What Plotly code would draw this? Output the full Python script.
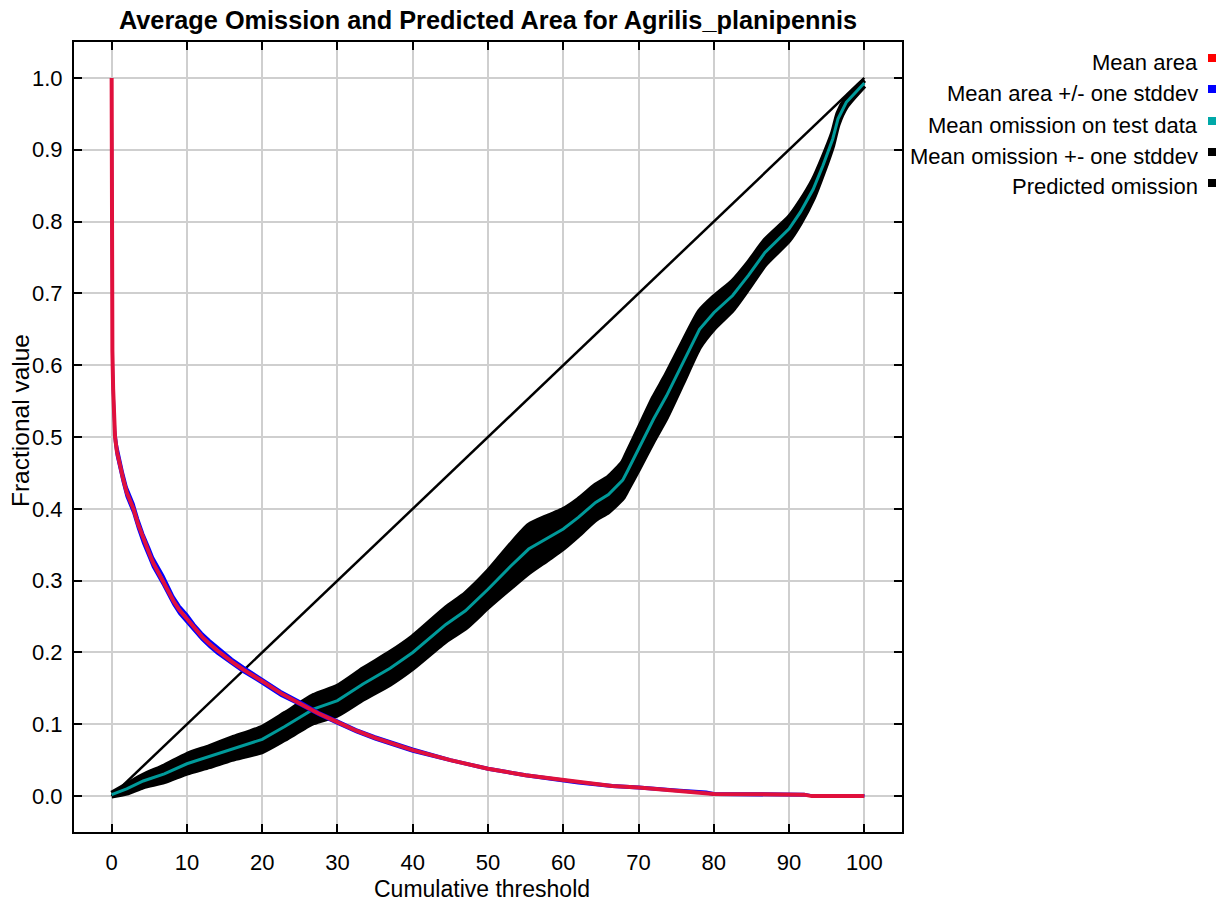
import plotly.graph_objects as go

# ---------------- data ----------------
x_ticks = [0, 10, 20, 30, 40, 50, 60, 70, 80, 90, 100]
y_ticks = [0.0, 0.1, 0.2, 0.3, 0.4, 0.5, 0.6, 0.7, 0.8, 0.9, 1.0]
y_ticktext = ["0.0", "0.1", "0.2", "0.3", "0.4", "0.5", "0.6", "0.7", "0.8", "0.9", "1.0"]

area_x = [0, 0.05, 0.1, 0.2, 0.3, 0.45, 0.7, 1.1, 1.5, 2,
          2.9, 3.5, 4.2, 5, 5.5, 6.85, 7.5, 8.2, 9, 10,
          11, 12, 13, 14, 16, 17.5, 20, 22.5, 25, 27.5,
          30, 32.5, 35, 37.5, 40, 45, 50, 55, 60, 62,
          66.5, 70, 75, 79, 80, 92, 93, 100]
area_mean = [1.0, 0.66, 0.62, 0.567, 0.54, 0.50, 0.48, 0.46, 0.443, 0.423,
             0.40, 0.379, 0.358, 0.338, 0.325, 0.30, 0.286, 0.272, 0.259, 0.247,
             0.234, 0.222, 0.212, 0.203, 0.187, 0.176, 0.16, 0.143, 0.129, 0.115,
             0.103, 0.091, 0.081, 0.072, 0.064, 0.05, 0.038, 0.029, 0.022, 0.019,
             0.014, 0.012, 0.008, 0.005, 0.003, 0.002, 0.0, 0.0]
area_upper = [1.0, 0.67, 0.63, 0.575, 0.548, 0.508, 0.488, 0.467, 0.45, 0.43,
              0.407, 0.386, 0.365, 0.345, 0.332, 0.307, 0.292, 0.278, 0.265, 0.253,
              0.239, 0.227, 0.217, 0.208, 0.191, 0.180, 0.163, 0.146, 0.132, 0.117,
              0.105, 0.093, 0.083, 0.074, 0.066, 0.051, 0.039, 0.030, 0.023, 0.020,
              0.015, 0.013, 0.009, 0.006, 0.004, 0.003, 0.001, 0.001]
area_lower = [1.0, 0.65, 0.612, 0.56, 0.533, 0.494, 0.474, 0.454, 0.437, 0.417,
              0.394, 0.373, 0.352, 0.332, 0.319, 0.294, 0.281, 0.267, 0.254, 0.242,
              0.230, 0.218, 0.208, 0.199, 0.184, 0.173, 0.157, 0.140, 0.127, 0.113,
              0.101, 0.089, 0.079, 0.070, 0.062, 0.049, 0.037, 0.028, 0.021, 0.018,
              0.013, 0.011, 0.007, 0.004, 0.002, 0.001, 0.0, 0.0]

om_x = [0, 2, 4.2, 7, 10, 13, 16, 20, 23, 26.8, 30, 33.4, 37, 40, 44.4, 47, 50, 53, 55.4, 58,
        60, 62, 64.3, 66, 67.9, 68.5, 70, 72, 73.7, 75.9, 78.1, 80, 82.5, 84.6, 86.8, 90, 91.5,
        93.2, 94.5, 95.8, 96.5, 97.6, 100]
om_mean = [0.002, 0.01, 0.021, 0.031, 0.045, 0.055, 0.066, 0.079, 0.097, 0.121, 0.133, 0.156,
           0.178, 0.20, 0.239, 0.258, 0.288, 0.32, 0.344, 0.36, 0.372, 0.388, 0.409, 0.42, 0.44,
           0.452, 0.483, 0.525, 0.557, 0.604, 0.650, 0.673, 0.697, 0.725, 0.757, 0.79, 0.813,
           0.845, 0.878, 0.915, 0.943, 0.966, 0.993]
om_upper = [0.004, 0.016, 0.029, 0.042, 0.058, 0.069, 0.081, 0.096, 0.115, 0.140, 0.153, 0.177,
            0.200, 0.222, 0.262, 0.282, 0.313, 0.350, 0.377, 0.390, 0.399, 0.413, 0.433, 0.444,
            0.465, 0.478, 0.511, 0.555, 0.587, 0.632, 0.675, 0.695, 0.717, 0.743, 0.774, 0.806,
            0.828, 0.858, 0.889, 0.924, 0.951, 0.972, 0.997]
om_lower = [0.0, 0.004, 0.013, 0.020, 0.032, 0.041, 0.051, 0.062, 0.079, 0.102, 0.113, 0.135,
            0.156, 0.178, 0.216, 0.234, 0.263, 0.290, 0.311, 0.330, 0.345, 0.363, 0.385, 0.396,
            0.415, 0.426, 0.455, 0.495, 0.527, 0.576, 0.625, 0.651, 0.677, 0.707, 0.740, 0.774,
            0.798, 0.832, 0.867, 0.906, 0.935, 0.960, 0.989]

pred_x = [0, 100]
pred_y = [0.0, 1.0]

legend_names = ["Mean area", "Mean area +/- one stddev", "Mean omission on test data",
                "Mean omission +- one stddev", "Predicted omission"]
legend_colors = ["#ff0000", "#0000ff", "#00a8a8", "#000000", "#000000"]

# ---------------- style ----------------
FONT = "Liberation Sans, Arial, sans-serif"
W, H = 1225, 905
L, R, T, B = 74, 902, 42, 832   # plot area in pixels

fig = go.Figure()

# predicted omission (diagonal)
fig.add_trace(go.Scatter(x=pred_x, y=pred_y, mode="lines", name="Predicted omission",
                         line=dict(color="black", width=2.5)))
# omission +- stddev band
fig.add_trace(go.Scatter(x=om_x, y=om_lower, mode="lines", name="Mean omission +- one stddev",
                         line=dict(color="black", width=5, shape="spline", smoothing=0.6)))
fig.add_trace(go.Scatter(x=om_x, y=om_upper, mode="lines", name="Mean omission +- one stddev",
                         line=dict(color="black", width=5, shape="spline", smoothing=0.6),
                         fill="tonexty", fillcolor="black"))
# mean omission
fig.add_trace(go.Scatter(x=om_x, y=om_mean, mode="lines", name="Mean omission on test data",
                         line=dict(color="#009a9a", width=3)))
# area +- stddev
fig.add_trace(go.Scatter(x=area_x, y=area_upper, mode="lines", name="Mean area +/- one stddev",
                         line=dict(color="#0000ff", width=2.5)))
fig.add_trace(go.Scatter(x=area_x, y=area_lower, mode="lines", name="Mean area +/- one stddev",
                         line=dict(color="#0000ff", width=2.5)))
# mean area
fig.add_trace(go.Scatter(x=area_x, y=area_mean, mode="lines", name="Mean area",
                         line=dict(color="#e0103c", width=4)))

axis_common = dict(
    showline=True, linecolor="black", linewidth=2, mirror="ticks",
    ticks="inside", ticklen=8, tickwidth=2, tickcolor="black",
    showgrid=True, gridcolor="#cfcfcf", gridwidth=2, zeroline=False,
    tickfont=dict(family=FONT, size=22, color="black"),
)

fig.update_layout(
    width=W, height=H,
    margin=dict(l=L, r=W - R, t=T, b=H - B, pad=0),
    paper_bgcolor="white", plot_bgcolor="white",
    showlegend=False,
    title=dict(text="Average Omission and Predicted Area for Agrilis_planipennis",
               font=dict(family=FONT, size=25.3, color="black", weight="bold"),
               x=0.5, xref="paper", xanchor="center",
               y=1 - 20 / H, yref="container", yanchor="middle"),
    xaxis=dict(range=[-5, 105], tickvals=x_ticks, ticklabelstandoff=10, **axis_common),
    yaxis=dict(range=[-0.05, 1.05], tickvals=y_ticks, ticktext=y_ticktext, ticklabelstandoff=5,
               **axis_common),
)

pw, ph = R - L, B - T

# axis titles
fig.add_annotation(x=((373 + 590) / 2 - L) / pw, y=(B - 889) / ph, xref="paper", yref="paper",
                   text="Cumulative threshold", showarrow=False, xanchor="center", yanchor="middle",
                   font=dict(family=FONT, size=23, color="black"))
fig.add_annotation(x=(20 - L) / pw, y=(B - 421) / ph, xref="paper", yref="paper",
                   text="Fractional value", showarrow=False, xanchor="center", yanchor="middle",
                   textangle=-90, font=dict(family=FONT, size=24.5, color="black"))

# custom legend: right-aligned text with square markers on the right
row_y = [62, 93, 125, 156, 187]
text_right = 1200
sq_x0, sq_x1 = 1208, 1216
for name, col, py in zip(legend_names, legend_colors, row_y):
    fig.add_annotation(x=(text_right - L) / pw, y=(B - py) / ph, xref="paper", yref="paper",
                       text=name, showarrow=False, xanchor="right", yanchor="middle",
                       font=dict(family=FONT, size=22, color="black"))
    fig.add_shape(type="rect", xref="paper", yref="paper",
                  x0=(sq_x0 - L) / pw, x1=(sq_x1 - L) / pw,
                  y0=(B - (py - 8)) / ph, y1=(B - py) / ph,
                  fillcolor=col, line=dict(width=0))

fig.write_html("out.html")
